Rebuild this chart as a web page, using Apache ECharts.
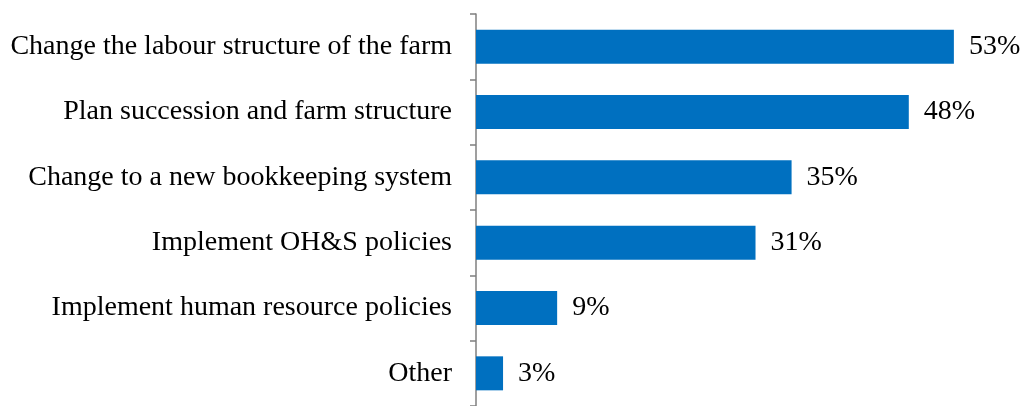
<!DOCTYPE html>
<html>
<head>
<meta charset="utf-8">
<script src="https://cdn.jsdelivr.net/npm/echarts@6/dist/echarts.min.js"></script>
<style>
  html, body { margin: 0; padding: 0; background: #ffffff; }
  #chart { width: 1022px; height: 406px; }
</style>
</head>
<body>
<div id="chart"></div>
<script>
// Planned business changes, share of respondents (%)
const categories = [
  'Change the labour structure of the farm',
  'Plan succession and farm structure',
  'Change to a new bookkeeping system',
  'Implement OH&S policies',
  'Implement human resource policies',
  'Other'
];
const shares = [53, 48, 35, 31, 9, 3];

const FONT = '"Liberation Serif", "Times New Roman", serif';

const chart = echarts.init(document.getElementById('chart'), null, { renderer: 'canvas' });
chart.setOption({
  animation: false,
  backgroundColor: '#ffffff',
  grid: { left: 476, right: 5, top: 14, bottom: -6, containLabel: false },
  xAxis: {
    type: 'value',
    min: 0,
    max: 60,
    show: false
  },
  yAxis: {
    type: 'category',
    data: categories,
    inverse: true,
    boundaryGap: true,
    axisLine: { show: true, lineStyle: { color: '#7f7f7f', width: 1.5 } },
    axisTick: { show: true, length: 6, lineStyle: { color: '#7f7f7f', width: 1.5 } },
    axisLabel: {
      margin: 24,
      color: '#000000',
      fontFamily: FONT,
      fontSize: 28
    },
    splitLine: { show: false }
  },
  series: [{
    type: 'bar',
    data: shares,
    barWidth: 34,
    itemStyle: { color: '#0070c0' },
    label: {
      show: true,
      position: 'right',
      distance: 15,
      formatter: '{c}%',
      color: '#000000',
      fontFamily: FONT,
      fontSize: 28
    }
  }]
});
</script>
</body>
</html>
